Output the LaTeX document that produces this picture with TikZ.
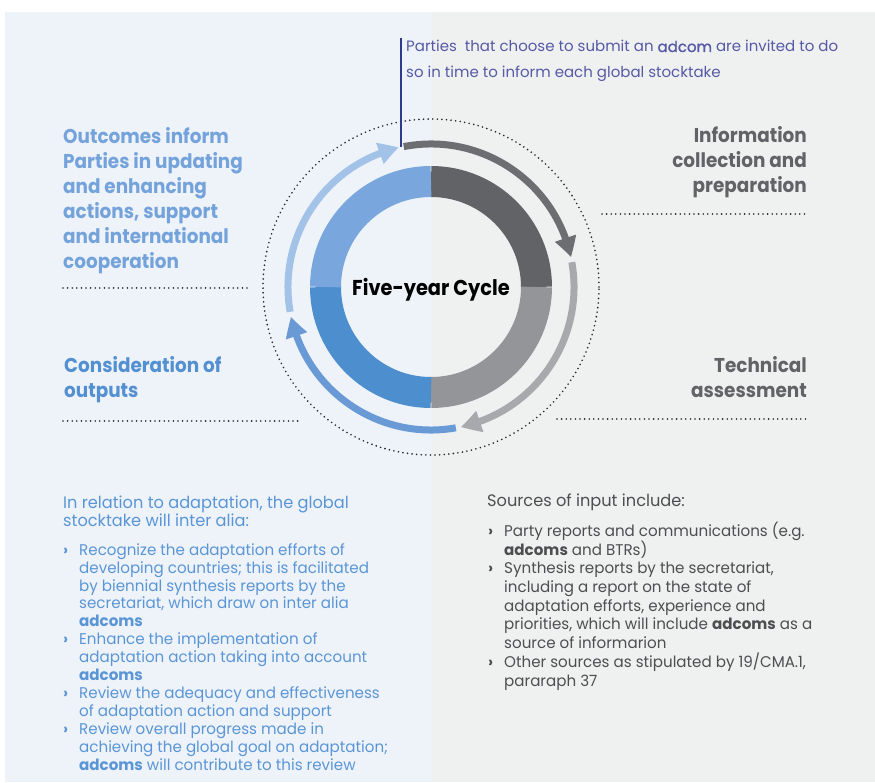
\documentclass[tikz,border=0pt]{standalone}
\usepackage{fontspec}
\setmainfont{Poppins}
\newfontfamily\headfont{Poppins}[FakeStretch=0.92]
\newfontfamily\cyclefont{Poppins}[FakeStretch=0.9]
\newfontfamily\bodyfont{Poppins}[FakeStretch=0.975]
\newfontfamily\midfont{Poppins}[FakeBold=1.2]
\usetikzlibrary{arrows.meta,bending}
\definecolor{leftbg}{HTML}{EEF2F9}
\definecolor{rightbg}{HTML}{EFF1F1}
\definecolor{ringA}{HTML}{626366}
\definecolor{ringB}{HTML}{939598}
\definecolor{ringC}{HTML}{4D8ECF}
\definecolor{ringD}{HTML}{79A7DD}
\definecolor{arrA}{HTML}{6D6E71}
\definecolor{arrB}{HTML}{A7A9AC}
\definecolor{arrC}{HTML}{6A9AD6}
\definecolor{arrD}{HTML}{A3C2E8}
\definecolor{ltblue}{HTML}{74A3DB}
\definecolor{dkblue}{HTML}{5290D2}
\definecolor{txtblue}{HTML}{5A96D6}
\definecolor{ttlgray}{HTML}{626366}
\definecolor{txtgray}{HTML}{4D4E50}
\definecolor{toptxt}{HTML}{5659A5}
\definecolor{navy}{HTML}{2E3A8C}
\newcommand{\bul}{\makebox[16pt][l]{\textbf{›}}}
\newcommand{\ind}{\hspace*{16pt}}
\tikzset{
  ringseg/.style={line width=31pt},
  cyclearrow/.style={line width=7pt,-{Triangle[length=20pt,width=21pt,bend]}},
  dotline/.style={line width=1.8pt,line cap=round,dash pattern=on 0pt off 4.6pt,black!85},
  heading/.style={inner sep=0pt,font=\headfont\bfseries\fontsize{20}{25}\selectfont},
  body/.style={inner sep=0pt,align=left},
}
\begin{document}
\begin{tikzpicture}[x=1pt,y=1pt]
\useasboundingbox (0,0) rectangle (875,782);
\fill[white] (0,0) rectangle (875,782);
\fill[leftbg] (5,0) rectangle (432,770);
\fill[rightbg] (432,0) rectangle (875,770);
\coordinate (C) at (431,495);
% ring
\draw[ringseg,ringA] (C) ++(0:105.5) arc[start angle=0,end angle=90,radius=105.5];
\draw[ringseg,ringB] (C) ++(-90:105.5) arc[start angle=-90,end angle=0,radius=105.5];
\draw[ringseg,ringC] (C) ++(180:105.5) arc[start angle=180,end angle=270,radius=105.5];
\draw[ringseg,ringD] (C) ++(90:105.5) arc[start angle=90,end angle=180,radius=105.5];
% dotted circle
\draw[dotline] (C) circle[radius=168];
% cycle arrows
\draw[cyclearrow,arrA] (C) ++(101:143) arc[start angle=101,end angle=12,radius=143];
\draw[cyclearrow,arrB] (C) ++(10:143) arc[start angle=10,end angle=-78,radius=143];
\draw[cyclearrow,arrC] (C) ++(-80:143) arc[start angle=-80,end angle=-168,radius=143];
\draw[cyclearrow,arrD] (C) ++(190:143) arc[start angle=190,end angle=103,radius=143];
\node[inner sep=0pt,anchor=base,font=\cyclefont\bfseries\fontsize{21.5}{26}\selectfont] (cycle) at (431,486) {Five-year Cycle};
% top note
\node[body,anchor=base west,text=toptxt,font=\fontsize{15}{26}\selectfont] (note) at (406,704)
 {Parties\ \ that choose to submit an {\midfont adcom} are invited to do\\so in time to inform each global stocktake};
\coordinate (notetop) at (401,744);
\coordinate (notebot) at (401,635);
\draw[navy,line width=2pt] (notetop) -- (notebot);
% headings
\node[heading,body,anchor=base west,text=ltblue] (outcomes) at (63,513)
 {Outcomes inform\\Parties in updating\\and enhancing\\actions, support\\and international\\cooperation};
\node[heading,body,anchor=base west,text=dkblue] (consid) at (64,384)
 {Consideration of\\outputs};
\node[heading,anchor=base east,align=right,text=ttlgray] (info) at (807,589)
 {Information\\collection and\\preparation};
\node[heading,anchor=base east,align=right,text=ttlgray] (tech) at (807,384)
 {Technical\\assessment};
% separators
\draw[dotline] (63,494) -- (250,494);
\draw[dotline] (63,361) -- (301,361);
\draw[dotline] (602,568) -- (807,568);
\draw[dotline] (557,363) -- (807,363);
% bottom left
\node[body,anchor=base west,text=txtblue,font=\bodyfont\fontsize{16.6}{18.8}\selectfont] (adapthead) at (63,255)
 {In relation to adaptation, the global\\stocktake will inter alia:};
\node[body,anchor=base west,text=txtblue,font=\bodyfont\fontsize{15.5}{17.9}\selectfont] (adaptlist) at (63,12)
 {\bul Recognize the adaptation efforts of\\
  \ind developing countries; this is facilitated\\
  \ind by biennial synthesis reports by the\\
  \ind secretariat, which draw on inter alia\\
  \ind\textbf{adcoms}\\
  \bul Enhance the implementation of\\
  \ind adaptation action taking into account\\
  \ind\textbf{adcoms}\\
  \bul Review the adequacy and effectiveness\\
  \ind of adaptation action and support\\
  \bul Review overall progress made in\\
  \ind achieving the global goal on adaptation;\\
  \ind\textbf{adcoms} will contribute to this review};
% bottom right
\node[body,anchor=base west,text=txtgray,font=\bodyfont\fontsize{16.6}{18.7}\selectfont] (srchead) at (487,275)
 {Sources of input include:};
\node[body,anchor=base west,text=txtgray,font=\bodyfont\fontsize{15.5}{18.7}\selectfont] (srclist) at (488,96)
 {\bul Party reports and communications (e.g.\\
  \ind\textbf{adcoms} and BTRs)\\
  \bul Synthesis reports by the secretariat,\\
  \ind including a report on the state of\\
  \ind adaptation efforts, experience and\\
  \ind priorities, which will include \textbf{adcoms} as a\\
  \ind source of informarion\\
  \bul Other sources as stipulated by 19/CMA.1,\\
  \ind pararaph 37};
\end{tikzpicture}
\end{document}
